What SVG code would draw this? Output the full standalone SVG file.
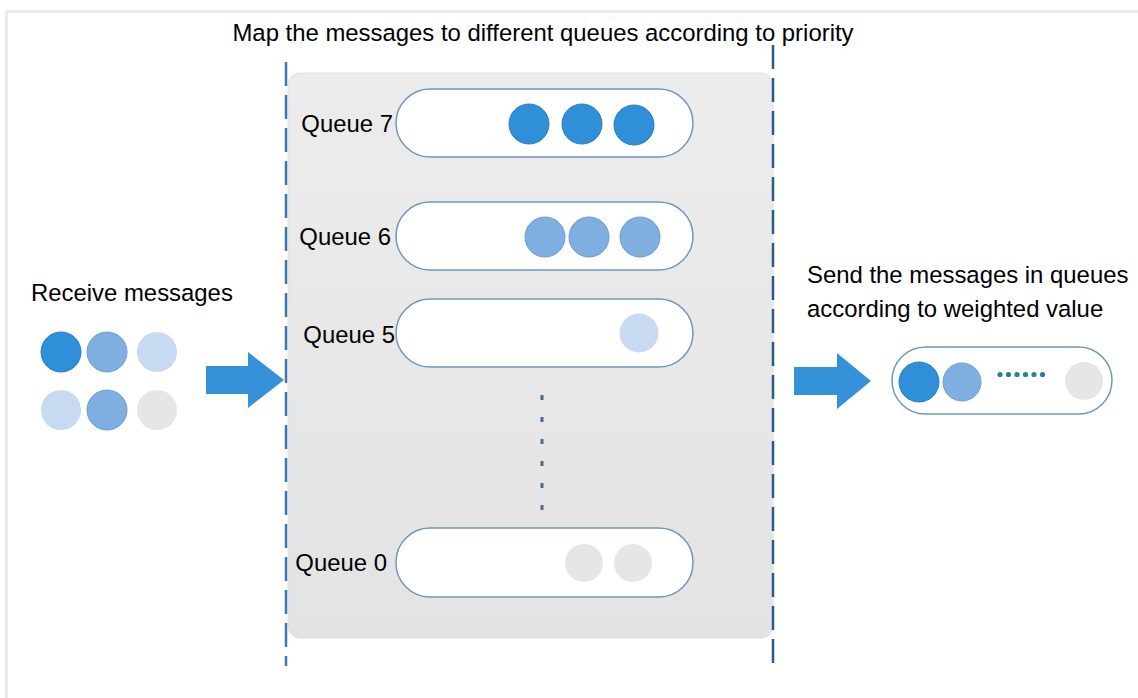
<svg xmlns="http://www.w3.org/2000/svg" width="1138" height="698" viewBox="0 0 1138 698">
  <defs>
    <linearGradient id="panelGrad" x1="0" y1="0" x2="0" y2="1">
      <stop offset="0" stop-color="#ececec"/>
      <stop offset="1" stop-color="#e3e3e3"/>
    </linearGradient>
    <style>
      .t { font-family: "Liberation Sans", Arial, sans-serif; font-size: 23.9px; fill: #000; }
      .pill { fill: #ffffff; stroke: #6f98b8; stroke-width: 1.5; }
      .c1 { fill: #2f8fd8; stroke: #2a80c4; stroke-width: 1; }
      .c2 { fill: #7eafe0; stroke: #6d9dd0; stroke-width: 1; }
      .c3 { fill: #c8daf2; }
      .c4 { fill: #e6e6e6; }
      .arrow { fill: #3592d8; }
      .dash { fill: none; stroke-width: 2.5; stroke-dasharray: 24 9; }
    </style>
  </defs>

  <rect x="0" y="0" width="1138" height="698" fill="#ffffff"/>
  <!-- faint frame -->
  <line x1="6" y1="11.5" x2="1138" y2="11.5" stroke="#ebebeb" stroke-width="3"/>
  <line x1="6.5" y1="11" x2="6.5" y2="698" stroke="#ebebeb" stroke-width="3"/>

  <text class="t" x="543" y="41" text-anchor="middle">Map the messages to different queues according to priority</text>

  <g id="panel">
    <rect x="288" y="73" width="485" height="565" rx="12" fill="url(#panelGrad)" stroke="#e0e0e0" stroke-width="1"/>
  </g>

  <g id="connectors">
    <line class="dash" x1="286" y1="62" x2="286" y2="666" stroke="#3b78b5"/>
    <line class="dash" x1="773" y1="45" x2="773" y2="668" stroke="#2f5a85"/>
    <path class="arrow" d="M206 366 H248 V352 L284 380 L248 408 V394 H206 Z"/>
    <path class="arrow" d="M794 367 H837 V353 L871 381 L837 409 V395 H794 Z"/>
    <line x1="542" y1="395" x2="542" y2="510" stroke="#4d6b8a" stroke-width="3" stroke-dasharray="5 17"/>
  </g>

  <g id="receive">
    <text class="t" x="31" y="301">Receive messages</text>
    <circle class="c1" cx="61" cy="352" r="20"/>
    <circle class="c2" cx="107" cy="352" r="20"/>
    <circle class="c3" cx="157" cy="352" r="20"/>
    <circle class="c3" cx="61" cy="410" r="20"/>
    <circle class="c2" cx="107" cy="410" r="20"/>
    <circle class="c4" cx="157" cy="410" r="20"/>
  </g>

  <g id="queue7">
    <text class="t" x="393" y="132" text-anchor="end">Queue 7</text>
    <rect class="pill" x="396" y="89" width="297" height="68" rx="34"/>
    <circle class="c1" cx="529" cy="124" r="20"/>
    <circle class="c1" cx="582" cy="124" r="20"/>
    <circle class="c1" cx="634" cy="125" r="20"/>
  </g>

  <g id="queue6">
    <text class="t" x="391" y="245" text-anchor="end">Queue 6</text>
    <rect class="pill" x="396" y="202" width="297" height="68" rx="34"/>
    <circle class="c2" cx="545" cy="237" r="20"/>
    <circle class="c2" cx="589" cy="237" r="20"/>
    <circle class="c2" cx="640" cy="237" r="20"/>
  </g>

  <g id="queue5">
    <text class="t" x="395" y="343" text-anchor="end">Queue 5</text>
    <rect class="pill" x="396" y="299" width="297" height="68" rx="34"/>
    <circle class="c3" cx="639" cy="333" r="19.5"/>
  </g>

  <g id="queue0">
    <text class="t" x="387" y="571" text-anchor="end">Queue 0</text>
    <rect class="pill" x="396" y="528" width="297" height="69" rx="34"/>
    <circle class="c4" cx="584" cy="563" r="19"/>
    <circle class="c4" cx="633" cy="563" r="19"/>
  </g>

  <g id="send">
    <text class="t" x="807" y="283">Send the messages in queues</text>
    <text class="t" x="807" y="317">according to weighted value</text>
    <rect class="pill" x="892" y="347" width="220" height="67" rx="33.5" stroke="#7b98ad"/>
    <circle class="c1" cx="919" cy="382" r="20"/>
    <circle class="c2" cx="962" cy="382" r="19"/>
    <circle class="c4" cx="1084" cy="381" r="19"/>
    <g fill="#2a7f95">
      <circle cx="1000" cy="374.5" r="2.6"/>
      <circle cx="1008.5" cy="374.5" r="2.6"/>
      <circle cx="1017" cy="374.5" r="2.6"/>
      <circle cx="1025.5" cy="374.5" r="2.6"/>
      <circle cx="1034" cy="374.5" r="2.6"/>
      <circle cx="1042.5" cy="374.5" r="2.6"/>
    </g>
  </g>
</svg>
